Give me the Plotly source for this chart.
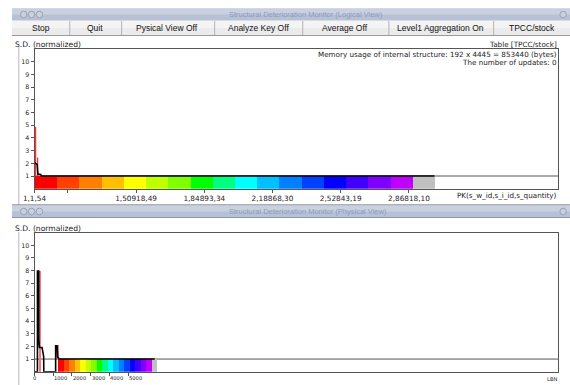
import plotly.graph_objects as go

W, H = 570, 385

# ---------------- data ----------------
bucket_colors = ["#ff0000", "#ff4000", "#ff8000", "#ffc000", "#ffff00", "#c0ff00",
                 "#80ff00", "#00ff00", "#00ff80", "#00ffff", "#00c0ff", "#0080ff",
                 "#0040ff", "#0000ff", "#4000ff", "#8000ff", "#c000ff", "#c0c0c0"]

# Logical view (key buckets)
key_bucket_start = [0, 1, 2, 3, 4, 5, 6, 7, 8, 9, 10, 11, 12, 13, 14, 15, 16, 17]
key_bucket_sd = [1, 1, 1, 1, 1, 1, 1, 1, 1, 1, 1, 1, 1, 1, 1, 1, 1, 1]
key_line_x = [0, 0.08, 0.12, 0.15, 0.28, 0.31, 18.0]
key_line_y = [2.08, 2.0, 1.9, 1.15, 1.12, 1.0, 1.0]
key_spike_x = [0.05, 0.14]
key_spike_base = [1.0, 1.0]
key_spike_top = [4.87, 2.45]
key_tick_vals = [0, 1.5, 4.57, 7.64, 10.71, 13.78, 16.85]
key_tick_text = ["1,1,54", "", "1,50918,49", "1,84893,34", "2,18868,30",
                 "2,52843,19", "2,86818,10"]

# Physical view (LBN buckets)
lbn_bucket_start = [1240, 1534, 1828, 2122, 2416, 2710, 3004, 3298, 3592, 3886,
                    4180, 4474, 4768, 5062, 5356, 5650, 5944, 6238]
lbn_bucket_width = 294
lbn_bucket_sd = [1, 1, 1, 1, 1, 1, 1, 1, 1, 1, 1, 1, 1, 1, 1, 1, 1, 1]
lbn_line_x = [0, 157, 157, 225, 228, 262, 403, 456, 490, 497, 1130, 1130, 1204,
              1241, 1300, 1335, 6430]
lbn_line_y = [0, 0, 7.97, 7.97, 2.6, 1.92, 1.92, 1.5, 1.2, 0, 0, 2.05, 2.05,
              1.15, 1.05, 1.0, 1.0]
lbn_spike_x = [275, 1220]
lbn_spike_base = [0, 1.0]
lbn_spike_top = [8.0, 2.1]
lbn_tick_vals = [0, 1000, 2000, 3000, 4000, 5000]
lbn_tick_text = ["0", "1000", "2000", "3000", "4000", "5000"]

y_tick_vals = [1, 2, 3, 4, 5, 6, 7, 8, 9, 10]

buttons = ["Stop", "Quit", "Pysical View Off", "Analyze Key Off", "Average Off",
           "Level1 Aggregation On", "TPCC/stock"]

# ---------------- layout helpers ----------------
def fx(X):
    return X / W

def fy(Y):
    return 1 - Y / H

SMALL = dict(family="DejaVu Sans", size=7.2, color="#222222")
YTICK = dict(family="DejaVu Sans", size=6.3, color="#222222")
XTICK = dict(family="DejaVu Sans", size=7.3, color="#222222")
LBNTICK = dict(family="DejaVu Sans", size=5.2, color="#222222")
UI = dict(family="Liberation Sans", size=8.5, color="#111111")

fig = go.Figure()

# ---- logical view traces ----
fig.add_trace(go.Bar(x=key_bucket_start, y=key_bucket_sd, offset=0, width=1,
                     marker=dict(color=bucket_colors, line=dict(width=0)),
                     xaxis="x", yaxis="y", hoverinfo="skip"))
sx, sy = [], []
for x, b, t in zip(key_spike_x, key_spike_base, key_spike_top):
    sx += [x, x, None]
    sy += [b, t, None]
fig.add_trace(go.Scatter(x=sx, y=sy, mode="lines", line=dict(color="#ff2a2a", width=1.2),
                         xaxis="x", yaxis="y", hoverinfo="skip"))
fig.add_trace(go.Scatter(x=key_line_x, y=key_line_y, mode="lines",
                         line=dict(color="#000000", width=1.6),
                         xaxis="x", yaxis="y", hoverinfo="skip"))

# ---- physical view traces ----
fig.add_trace(go.Bar(x=lbn_bucket_start, y=lbn_bucket_sd, offset=0, width=lbn_bucket_width,
                     marker=dict(color=bucket_colors, line=dict(width=0)),
                     xaxis="x2", yaxis="y2", hoverinfo="skip"))
fig.add_trace(go.Bar(x=lbn_spike_x, y=[t - b for t, b in zip(lbn_spike_top, lbn_spike_base)],
                     base=lbn_spike_base, width=100,
                     marker=dict(color="#f27a7a", line=dict(width=0)),
                     xaxis="x2", yaxis="y2", hoverinfo="skip"))
fig.add_trace(go.Scatter(x=lbn_line_x, y=lbn_line_y, mode="lines",
                         line=dict(color="#000000", width=1.6),
                         xaxis="x2", yaxis="y2", hoverinfo="skip"))

axis_common = dict(showgrid=False, zeroline=False, showline=True, mirror=True,
                   linecolor="#555555", linewidth=1, ticks="outside", ticklen=3,
                   tickcolor="#555555")

x_dom = [fx(23), fx(558)]
fig.update_layout(
    width=W, height=H, margin=dict(l=0, r=0, t=0, b=0),
    paper_bgcolor="white", plot_bgcolor="white", showlegend=False,
    barmode="overlay", bargap=0,
    xaxis=dict(domain=x_dom, range=[0, 23.57], tickvals=key_tick_vals,
               ticktext=key_tick_text, tickfont=XTICK, **axis_common),
    yaxis=dict(domain=[fy(188.7), fy(49)], range=[0, 11], tickvals=y_tick_vals,
               tickfont=YTICK, **axis_common),
    xaxis2=dict(domain=x_dom, range=[0, 28010], tickvals=lbn_tick_vals,
                showticklabels=False, anchor="y2", **axis_common),
    yaxis2=dict(domain=[fy(371.7), fy(232.7)], range=[0, 11], tickvals=y_tick_vals,
                tickfont=YTICK, anchor="x2", **axis_common),
)

shapes = []
# reference lines at S.D. = 1
for xr, yr in (("x domain", "y"), ("x2 domain", "y2")):
    shapes.append(dict(type="line", xref=xr, yref=yr, x0=0, x1=1, y0=1, y1=1,
                       line=dict(color="#555555", width=1), layer="below"))

def rect(x0, y0, x1, y1, fill, line=None):
    shapes.append(dict(type="rect", xref="paper", yref="paper",
                       x0=fx(x0), x1=fx(x1), y0=fy(y1), y1=fy(y0),
                       fillcolor=fill, line=dict(width=0) if line is None else line))

def hline(x0, x1, y, color, w=1):
    shapes.append(dict(type="line", xref="paper", yref="paper",
                       x0=fx(x0), x1=fx(x1), y0=fy(y), y1=fy(y),
                       line=dict(color=color, width=w)))

def vline(x, y0, y1, color, w=1):
    shapes.append(dict(type="line", xref="paper", yref="paper",
                       x0=fx(x), x1=fx(x), y0=fy(y0), y1=fy(y1),
                       line=dict(color=color, width=w)))

def circle(cx, cy, r):
    shapes.append(dict(type="circle", xref="paper", yref="paper",
                       x0=fx(cx - r), x1=fx(cx + r), y0=fy(cy + r), y1=fy(cy - r),
                       fillcolor="#cad1dd", line=dict(color="#98a2b4", width=1)))

def title_bar(top, bottom):
    rect(0, top, W, bottom, "#b7c1d5")
    rect(0, top, W, (top + bottom) / 2, "#c9d0df")
    hline(0, W, bottom, "#8c98ae")
    cy = (top + bottom) / 2
    for cx in (12, 20, 28):
        circle(cx, cy, 3.3)
    circle(563, cy, 3.3)

# top window
title_bar(8.5, 20.5)
rect(0, 20.5, W, 35.5, "#ebebeb")
rect(0, 20.5, W, 28, "#f4f4f4")
hline(0, W, 35.5, "#9a9a9a")
for sxp in (59, 112, 207, 297, 385, 492):
    vline(sxp, 21, 35, "#b3b3b3")
vline(7, 47, 205, "#b8b8b8")

# bottom window
hline(0, W, 205, "#606060")
title_bar(205.5, 217.5)
vline(7, 232, 385, "#b8b8b8")

fig.update_layout(shapes=shapes)

ann = []
def text(X, Y, s, anchor="left", font=SMALL):
    ann.append(dict(xref="paper", yref="paper", x=fx(X), y=fy(Y), text=s,
                    showarrow=False, xanchor=anchor, yanchor="middle", font=font,
                    borderpad=0))

TITLE = dict(family="Liberation Sans", size=7.5, color="#8d9bbb")
text(300, 14.5, "Structural Deterioration Monitor (Logical View)", "center", TITLE)
text(302, 211.5, "Structural Deterioration Monitor (Physical View)", "center", TITLE)

for cxp, lab in zip((30, 85, 158, 252, 340, 438, 531), buttons):
    text(cxp, 28, lab, "center", UI)

SD = dict(family="DejaVu Sans", size=7.6, color="#222222")
text(2, 44, "S.D. (normalized)", "left", SD)
text(558, 44, "Table [TPCC/stock]", "right")
text(558, 54, "Memory usage of internal structure: 192 x 4445 = 853440 (bytes)", "right")
text(558, 62, "The number of updates: 0", "right")
text(558, 196, "PK(s_w_id,s_i_id,s_quantity)", "right")
text(2, 228, "S.D. (normalized)", "left", SD)
text(558, 378.5, "LBN", "right", LBNTICK)

for v, s in zip(lbn_tick_vals, lbn_tick_text):
    ann.append(dict(xref="x2", yref="paper", x=v, y=fy(377.5), text=s, showarrow=False,
                    xanchor="center" if v == 0 else "left", yanchor="middle",
                    font=LBNTICK, borderpad=0))

fig.update_layout(annotations=ann)

fig.write_html("out.html",
               config={"displayModeBar": False},
               post_script="document.body.style.margin='0';"
                           "document.body.style.overflow='hidden';")
